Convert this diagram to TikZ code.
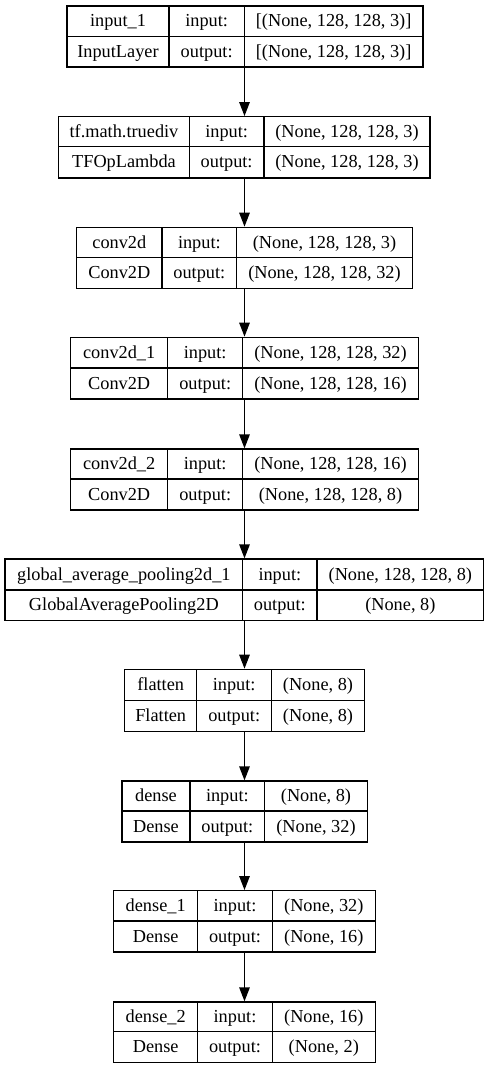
\documentclass[tikz,border=0pt]{standalone}
\usepackage{fontspec}
\setmainfont{Liberation Serif}
\usetikzlibrary{arrows.meta,fit}
\tikzset{
  lay/.style={draw=black, line width=1.3pt, inner sep=0pt, fill=none},
  sep/.style={draw=black, line width=1.3pt},
  txt/.style={anchor=base, inner sep=0pt, font=\fontsize{18.3}{22}\selectfont},
  arr/.style={draw=black, line width=1.3pt, -{Triangle[length=14pt,width=10.5pt]}},
}
% #1 name, #2 L, #3 D1, #4 D2, #5 R, #6 T, #7 M, #8 B
\newcommand{\lbox}[8]{%
  \node[lay, fit={(#2,#6) (#5,#8)}] (#1) {};
  \draw[sep] (#3,#6) -- (#3,#8);
  \draw[sep] (#4,#6) -- (#4,#8);
  \draw[sep] (#2,#7) -- (#5,#7);
  \gdef\xL{#2}\gdef\xA{#3}\gdef\xB{#4}\gdef\xR{#5}\gdef\yT{#6}\gdef\yM{#7}\gdef\yB{#8}%
}
% #1 name, #2 layer name, #3 type, #4 in, #5 out
\newcommand{\ltxt}[5]{%
  \node[txt] (#1-n) at ({(\xL+\xA)/2},{(\yT+\yM)/2+5.5}) {#2};
  \node[txt] (#1-t) at ({(\xL+\xA)/2},{(\yM+\yB)/2+5.5}) {#3};
  \node[txt] (#1-il) at ({(\xA+\xB)/2},{(\yT+\yM)/2+5.5}) {input:};
  \node[txt] (#1-ol) at ({(\xA+\xB)/2},{(\yM+\yB)/2+5.5}) {output:};
  \node[txt] (#1-iv) at ({(\xB+\xR)/2},{(\yT+\yM)/2+5.5}) {#4};
  \node[txt] (#1-ov) at ({(\xB+\xR)/2},{(\yM+\yB)/2+5.5}) {#5};
}
\begin{document}
\begin{tikzpicture}[x=1pt,y=-1pt]
\useasboundingbox[fill=white] (0,0) rectangle (489,1069);
\coordinate (ax) at (244.5,0);

\lbox{L1}{67}{169}{244.3}{423}{6}{36.3}{67}
\ltxt{L1}{input\_1}{InputLayer}{[(None, 128, 128, 3)]}{[(None, 128, 128, 3)]}

\lbox{L2}{58.7}{189.3}{264}{430}{116.7}{146.7}{178}
\ltxt{L2}{tf.math.truediv}{TFOpLambda}{(None, 128, 128, 3)}{(None, 128, 128, 3)}

\lbox{L3}{76.7}{162}{236.7}{412.3}{227.3}{257.7}{288.3}
\ltxt{L3}{conv2d}{Conv2D}{(None, 128, 128, 3)}{(None, 128, 128, 32)}

\lbox{L4}{70.7}{167.7}{242.7}{418.3}{337.3}{368}{399}
\ltxt{L4}{conv2d\_1}{Conv2D}{(None, 128, 128, 32)}{(None, 128, 128, 16)}

\lbox{L5}{70.7}{167.7}{242.7}{418.3}{449}{479}{510}
\ltxt{L5}{conv2d\_2}{Conv2D}{(None, 128, 128, 16)}{(None, 128, 128, 8)}

\lbox{L6}{5}{242.7}{317}{483.7}{559}{590}{620.3}
\ltxt{L6}{global\_average\_pooling2d\_1}{GlobalAveragePooling2D}{(None, 128, 128, 8)}{(None, 8)}

\lbox{L7}{124.7}{196.7}{271.7}{364.3}{669.3}{700.3}{731.3}
\ltxt{L7}{flatten}{Flatten}{(None, 8)}{(None, 8)}

\lbox{L8}{122}{190}{264.7}{367.3}{781}{811}{842}
\ltxt{L8}{dense}{Dense}{(None, 8)}{(None, 32)}

\lbox{L9}{113.7}{197.7}{272.3}{375.3}{890.7}{921}{952}
\ltxt{L9}{dense\_1}{Dense}{(None, 32)}{(None, 16)}

\lbox{L10}{113.7}{197.7}{272.3}{375.3}{1002}{1031.7}{1062.7}
\ltxt{L10}{dense\_2}{Dense}{(None, 16)}{(None, 2)}

\foreach \a/\b in {L1/L2,L2/L3,L3/L4,L4/L5,L5/L6,L6/L7,L7/L8,L8/L9,L9/L10}{
  \draw[arr] (\a.south -| ax) -- (\b.north -| ax);
}
\end{tikzpicture}
\end{document}
